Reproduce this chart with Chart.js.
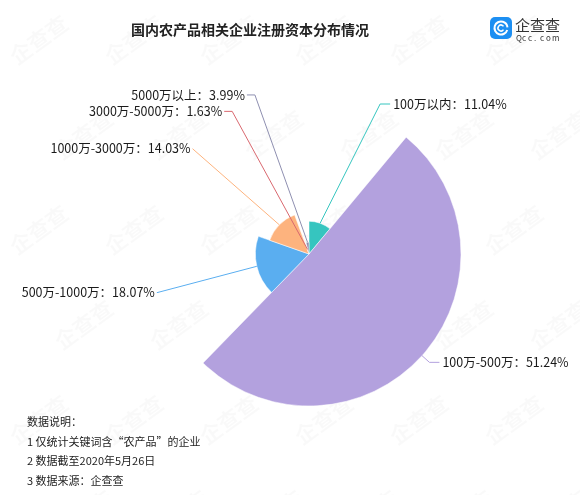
<!DOCTYPE html>
<html>
<head>
<meta charset="utf-8">
<script src="https://cdn.jsdelivr.net/npm/chart.js@4/dist/chart.umd.min.js"></script>
<style>
  html, body { margin: 0; padding: 0; background: #fff; }
  #wrap { position: relative; width: 580px; height: 495px; }
</style>
</head>
<body>
<div id="wrap"><canvas id="myChart" width="580" height="495"></canvas></div>
<script>
// data
var categories = ['100万以内', '100万-500万', '500万-1000万', '1000万-3000万', '3000万-5000万', '5000万以上'];
var shares = [11.04, 51.24, 18.07, 14.03, 1.63, 3.99];
var colors = ['#36c5bf', '#b3a1de', '#5aaef0', '#fdb37e', '#d9686f', '#8e8fb0'];
var notes = ['数据说明：', '1 仅统计关键词含“农产品”的企业', '2 数据截至2020年5月26日', '3 数据来源：企查查'];

// label layout: degrees added to the slice's mid angle, leader radius, tail length
var labelTurn = [5.5, 0, -1, -2.4, -11, -11.6];
var labelRadius = [166, 162, 157, 157, 162, 168];
var labelTail = [10, 10, 0, 0, 8, 8];
var FONT = '"Noto Sans CJK SC", "Noto Sans", sans-serif';

var total = shares.reduce(function (a, b) { return a + b; }, 0);

var watermark = {
    id: 'watermark',
    beforeDraw: function (chart) {
        var ctx = chart.ctx;
        ctx.save();
        ctx.fillStyle = 'rgba(0,0,0,0.025)';
        ctx.font = 'bold 22px ' + FONT;
        for (var y = 40; y < 520; y += 95) {
            for (var x = 20; x < 620; x += 95) {
                ctx.save();
                ctx.translate(x + ((y / 95) % 2) * 45, y);
                ctx.rotate(-Math.PI / 5);
                ctx.fillText('企查查', -33, 8);
                ctx.restore();
            }
        }
        ctx.restore();
    }
};

var decorations = {
    id: 'decorations',
    afterDraw: function (chart) {
        var ctx = chart.ctx;
        ctx.save();
        // title
        ctx.fillStyle = '#222';
        ctx.font = 'bold 14px ' + FONT;
        ctx.textAlign = 'center';
        ctx.textBaseline = 'middle';
        ctx.fillText('国内农产品相关企业注册资本分布情况', 250, 30);

        // logo
        ctx.fillStyle = '#1d8ff2';
        ctx.beginPath();
        ctx.roundRect(490, 17, 22, 22, 5);
        ctx.fill();
        ctx.strokeStyle = '#fff';
        ctx.lineWidth = 2;
        ctx.beginPath();
        ctx.arc(501, 28, 6.5, 0.3, Math.PI * 2 - 0.1);
        ctx.stroke();
        ctx.lineWidth = 1.5;
        ctx.beginPath();
        ctx.arc(501, 28, 3, 0.6, Math.PI * 2 - 0.6);
        ctx.stroke();
        ctx.fillStyle = '#333';
        ctx.textAlign = 'left';
        ctx.font = '15px ' + FONT;
        ctx.fillText('企查查', 515, 25);
        ctx.font = '8px ' + FONT;
        var q = 'Qcc.com';
        for (var k = 0; k < q.length; k++) ctx.fillText(q[k], 516 + k * 6, 38);

        // notes
        ctx.font = '11px ' + FONT;
        ctx.fillStyle = '#222';
        notes.forEach(function (t, i) {
            ctx.fillText(t, 27, 422 + i * 19.5);
        });

        // slice labels with leader lines
        var meta = chart.getDatasetMeta(0);
        ctx.font = '12.5px ' + FONT;
        meta.data.forEach(function (arc, i) {
            var p = arc.getProps(['x', 'y', 'startAngle', 'endAngle', 'outerRadius'], true);
            var mid = (p.startAngle + p.endAngle) / 2;
            var sx = p.x + Math.cos(mid) * p.outerRadius;
            var sy = p.y + Math.sin(mid) * p.outerRadius;
            var a = mid + labelTurn[i] * Math.PI / 180;
            var ex = p.x + Math.cos(a) * labelRadius[i];
            var ey = p.y + Math.sin(a) * labelRadius[i];
            var right = ex >= p.x;
            var hx = ex + (right ? labelTail[i] : -labelTail[i]);
            ctx.strokeStyle = colors[i];
            ctx.lineWidth = 1;
            ctx.beginPath();
            ctx.moveTo(sx, sy);
            ctx.lineTo(ex, ey);
            ctx.lineTo(hx, ey);
            ctx.stroke();
            ctx.fillStyle = '#1a1a1a';
            ctx.textAlign = right ? 'left' : 'right';
            ctx.textBaseline = 'middle';
            ctx.fillText(categories[i] + '：' + shares[i].toFixed(2) + '%', hx + (right ? 3 : -2), ey);
        });
        ctx.restore();
    }
};

var ctx = document.getElementById('myChart').getContext('2d');
var myChart = new Chart(ctx, {
    type: 'polarArea',
    data: {
        labels: categories,
        datasets: [{
            data: shares,
            backgroundColor: colors,
            borderColor: '#fff',
            borderWidth: 0.5,
            angle: function (c) { return shares[c.dataIndex] / total * 360; }
        }]
    },
    options: {
        responsive: false,
        animation: false,
        layout: { padding: { left: 157, right: 119, top: 102, bottom: 89 } },
        scales: {
            r: { display: false, min: 0, max: Math.max.apply(null, shares), startAngle: 0 }
        },
        plugins: {
            legend: { display: false },
            tooltip: { enabled: false }
        }
    },
    plugins: [watermark, decorations]
});
</script>
</body>
</html>
